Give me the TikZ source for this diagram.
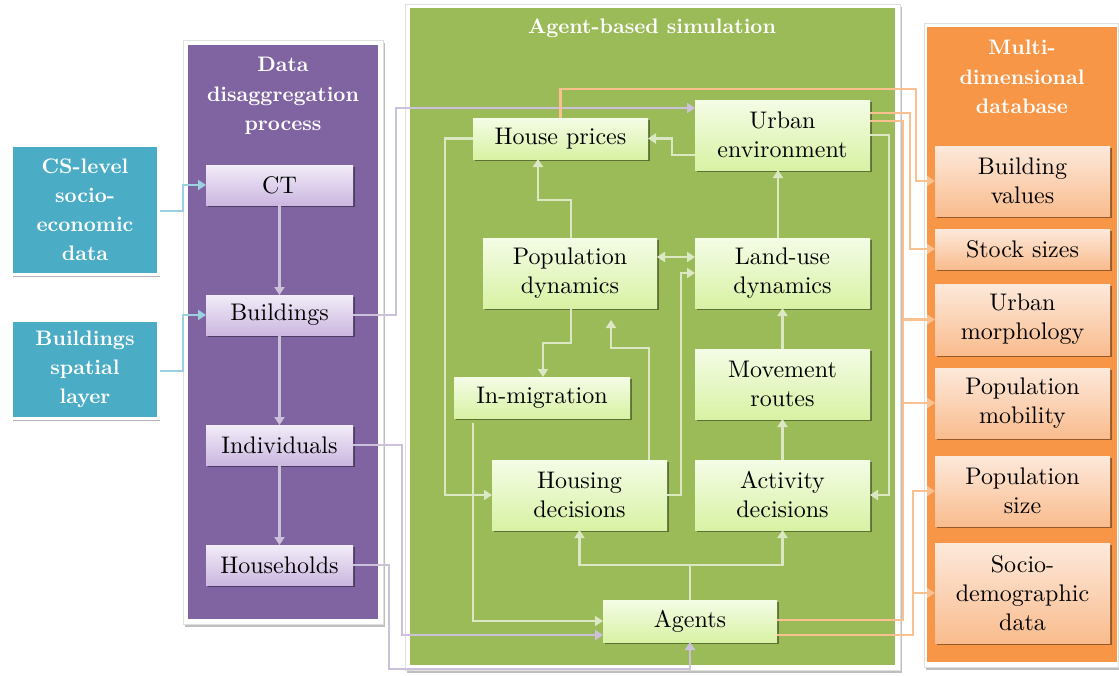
\documentclass[tikz,border=0pt]{standalone}
\usepackage{fontspec}
\setmainfont{lmroman10}[Extension=.otf, UprightFont=*-regular, BoldFont=*-bold]
\usetikzlibrary{shadows,arrows.meta}
\definecolor{cyanP}{HTML}{4BACC6}
\definecolor{purpP}{HTML}{8064A2}
\definecolor{greenP}{HTML}{9BBB59}
\definecolor{orangeP}{HTML}{F79646}
\definecolor{cyanL}{HTML}{9CD2E0}
\definecolor{purpL}{HTML}{CCC1DA}
\definecolor{greenL}{HTML}{DCE8C4}
\definecolor{orangeL}{HTML}{FAC090}
\definecolor{purpT}{HTML}{F1ECF8}
\definecolor{purpB}{HTML}{CCB7E0}
\definecolor{greenT}{HTML}{F4FCE6}
\definecolor{greenB}{HTML}{D8F2A4}
\definecolor{orangeT}{HTML}{FDE9DB}
\definecolor{orangeB}{HTML}{F9BC8E}
\tikzset{
  txt/.style={font=\fontsize{24}{29}\selectfont, align=center, inner sep=0pt, outer sep=0pt},
  ttl/.style={text=white, font=\bfseries\fontsize{21}{29.5}\selectfont, align=center, inner sep=0pt},
  box/.style={txt, draw=none, drop shadow={shadow xshift=1.5pt, shadow yshift=-2pt, opacity=0.4, fill=black}},
  pbox/.style={box, top color=purpT, bottom color=purpB, minimum width=147, minimum height=40},
  gbox/.style={box, top color=greenT, bottom color=greenB, minimum width=175},
  obox/.style={box, top color=orangeT, bottom color=orangeB, minimum width=175},
  cbox/.style={fill=cyanP, draw=white, line width=3pt, text=white, font=\bfseries\fontsize{21}{29}\selectfont, align=center, inner sep=0pt, minimum width=147, drop shadow={shadow xshift=1.5pt, shadow yshift=-2pt, opacity=0.3, fill=black}},
  pframe/.style={fill=white, draw=gray!25, line width=0.6pt, inner sep=0pt, outer sep=0pt, drop shadow={shadow xshift=2pt, shadow yshift=-2.5pt, opacity=0.25, fill=black}},
  pfill/.style={inner sep=0pt, outer sep=0pt, draw=none},
  conn/.style={line width=2.6pt, -{Triangle[length=8pt,width=10pt]}},
  cline/.style={conn, draw=cyanL},
  pline/.style={conn, draw=purpL},
  gline/.style={conn, draw=greenL},
  oline/.style={conn, draw=orangeL}
}
\begin{document}
\begin{tikzpicture}[x=1pt,y=-1pt]
\useasboundingbox (0,0) rectangle (1119,675);
% panels
\node[pframe, minimum width=200, minimum height=584] (ppf) at (283,332) {};
\node[pfill, fill=purpP, minimum width=190, minimum height=574] (pp) at (283,332) {};
\node[pframe, minimum width=495, minimum height=666] (gpf) at (652.5,337) {};
\node[pfill, fill=greenP, minimum width=485, minimum height=657] (gp) at (652.5,336.5) {};
\node[pframe, minimum width=194, minimum height=644] (opf) at (1021,345) {};
\node[pfill, fill=orangeP, minimum width=190, minimum height=635] (op) at (1022,344.5) {};
% titles
\node[ttl] (pt) at (283,96) {Data\\disaggregation\\process};
\node[ttl] (gt) at (652,28) {Agent-based simulation};
\node[ttl] (ot) at (1022,77) {Multi-\\dimensional\\database};
% cyan boxes
\node[cbox, minimum height=129] (cs) at (85,210) {CS-level\\socio-\\economic\\data};
\node[cbox, minimum height=98] (bsl) at (85,369.5) {Buildings\\spatial\\layer};
% purple boxes
\node[pbox] (ct) at (279.5,185) {CT};
\node[pbox] (bld) at (279.5,315) {Buildings};
\node[pbox] (ind) at (279.5,445) {Individuals};
\node[pbox] (hh) at (279.5,565) {Households};
% green boxes
\node[gbox, minimum height=41] (hp) at (560.5,138.5) {House prices};
\node[gbox, minimum height=70] (ue) at (782.5,135) {Urban\\environment};
\node[gbox, minimum width=174, minimum height=70] (pd) at (570,273) {Population\\dynamics};
\node[gbox, minimum height=70] (lu) at (782.5,273) {Land-use\\dynamics};
\node[gbox, minimum width=176, minimum height=41] (im) at (542,397.5) {In-migration};
\node[gbox, minimum height=70] (mr) at (782.5,384) {Movement\\routes};
\node[gbox, minimum height=70] (hd) at (579.5,495) {Housing\\decisions};
\node[gbox, minimum height=70] (ad) at (782.5,495) {Activity\\decisions};
\node[gbox, minimum width=174, minimum height=42] (ag) at (690,621) {Agents};
% orange boxes
\node[obox, minimum height=70] (bv) at (1022.5,181) {Building\\values};
\node[obox, minimum height=40] (ss) at (1022.5,249) {Stock sizes};
\node[obox, minimum height=71] (um) at (1022.5,319.5) {Urban\\morphology};
\node[obox, minimum height=70] (pm) at (1022.5,403) {Population\\mobility};
\node[obox, minimum height=70] (ps) at (1022.5,491) {Population\\size};
\node[obox, minimum height=100] (sd) at (1022.5,593) {Socio-\\demographic\\data};
% cyan connectors
\draw[cline] ([yshift=-1pt]cs.east) -- (183,211) -- (183,185) -- (ct.west);
\draw[cline] ([yshift=-1.5pt]bsl.east) -- (183,371) -- (183,315) -- (bld.west);
% purple connectors
\draw[pline] (ct.south) -- (bld.north);
\draw[pline] (bld.south) -- (ind.north);
\draw[pline] (ind.south) -- (hh.north);
\draw[pline] (bld.east) -- (396,315) -- (396,108) -- ([yshift=27pt]ue.west);
\draw[pline] (ind.east) -- (402,445) -- (402,635) -- ([yshift=-14pt]ag.west);
\draw[pline] (hh.east) -- (389,565) -- (389,669) -- (690,669) -- (ag.south);
% green connectors
\draw[gline] ([yshift=-20pt]ue.west) -- (672,155) -- (672,138.5) -- (hp.east);
\draw[gline] ([xshift=1pt]pd.north) -- (571,200) -- (538,200) -- ([xshift=-22.5pt]hp.south);
\draw[gline] ([xshift=-4.5pt]lu.north) -- ([xshift=-4.5pt]ue.south);
\draw[gline, {Triangle[length=8pt,width=10pt]}-{Triangle[length=8pt,width=10pt]}] ([yshift=16pt]pd.east) -- ([yshift=16pt]lu.west);
\draw[gline] (hd.east) -- (681,495) -- (681,273) -- (lu.west);
\draw[gline, shorten >=12pt] ([xshift=69.5pt]hd.north) -- (649,348) -- (611,348) -- ([xshift=41pt]pd.south);
\draw[gline] ([xshift=1pt]pd.south) -- (571,343) -- (543,343) -- ([xshift=1pt]im.north);
\draw[gline] (hp.west) -- (445,138.5) -- (445,495) -- (hd.west);
\draw[gline] ([xshift=-69pt,yshift=-5pt]im.south) -- (473,621) -- (ag.west);
\draw[gline] (ag.north) -- (690,565) -- (579.5,565) -- (hd.south);
\draw[gline] (ag.north) -- (690,565) -- (782.5,565) -- (ad.south);
\draw[gline] (ad.north) -- (mr.south);
\draw[gline] (mr.north) -- (lu.south);
\draw[gline] (ue.east) -- (889,135) -- (889,495) -- (ad.east);
% orange connectors
\draw[oline] (hp.north) -- (560.5,89) -- (916,89) -- (916,181) -- (bv.west);
\draw[oline] ([yshift=22pt]ue.east) -- (910,113) -- (910,249) -- (ss.west);
\draw[oline] ([yshift=14pt]ue.east) -- (903,121) -- (903,319.5) -- (um.west);
\draw[oline] ([yshift=14pt]ue.east) -- (903,121) -- (903,403) -- (pm.west);
\draw[oline] ([yshift=1pt]ag.east) -- (903,620) -- (903,403) -- (pm.west);
\draw[oline] ([yshift=-14pt]ag.east) -- (913,635) -- (913,491) -- (ps.west);
\draw[oline] ([yshift=-14pt]ag.east) -- (913,635) -- (913,593) -- (sd.west);
\end{tikzpicture}
\end{document}
